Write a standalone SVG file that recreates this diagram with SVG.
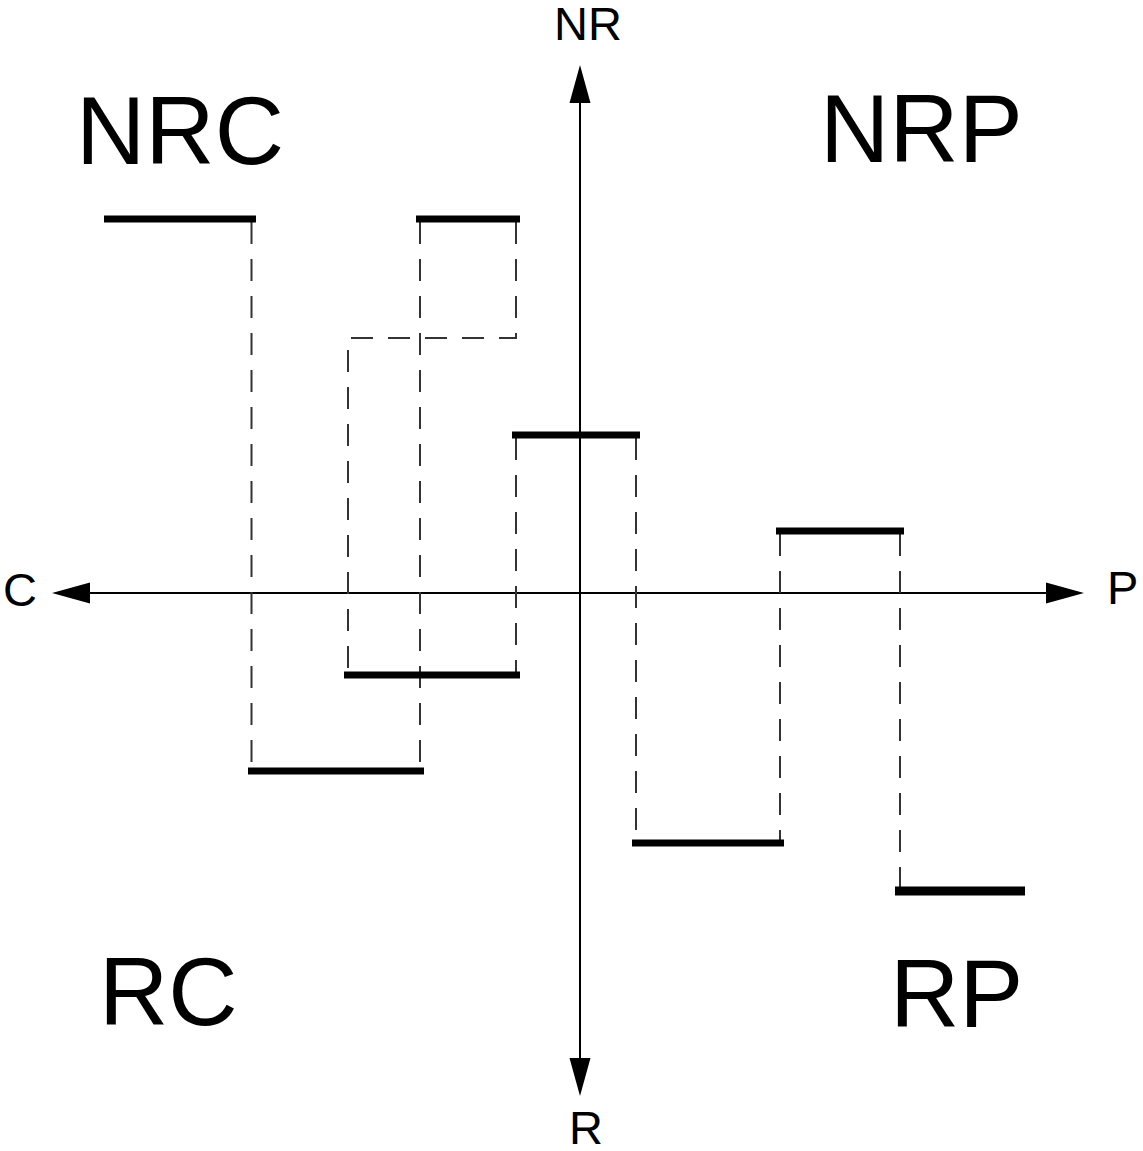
<svg xmlns="http://www.w3.org/2000/svg" width="1143" height="1151" viewBox="0 0 1143 1151">
<style>
.bar{stroke:#000;stroke-width:7;stroke-linecap:butt;fill:none}
.dash{stroke:#333;stroke-width:2;stroke-dasharray:22 15;fill:none}
.axis{stroke:#000;stroke-width:2;fill:none}
.small{font-family:"Liberation Sans",Arial,sans-serif;font-size:47px;fill:#000}
.big{font-family:"Liberation Sans",Arial,sans-serif;font-size:96px;fill:#000}
</style>
<defs>
<marker id="arrow" markerUnits="userSpaceOnUse" markerWidth="40" markerHeight="24" viewBox="0 -12 40 24" refX="0" refY="0" orient="auto-start-reverse">
<path d="M0,-10.5 L38,0 L0,10.5 Z" fill="#000"/>
</marker>
</defs>
<rect width="1143" height="1151" fill="#fff"/>
<g id="connectors">
<line id="axis-h" class="axis" x1="90" y1="593" x2="1046" y2="593" marker-start="url(#arrow)" marker-end="url(#arrow)"/>
<line id="axis-v" class="axis" x1="580" y1="103" x2="580" y2="1058" marker-start="url(#arrow)" marker-end="url(#arrow)"/>
<line class="dash" x1="251.5" y1="222" x2="251.5" y2="771"/>
<line class="dash" x1="420" y1="222" x2="420" y2="771"/>
<path class="dash" d="M516,222 V338 H348 V675"/>
<line class="dash" x1="516" y1="438" x2="516" y2="675"/>
<line class="dash" x1="636" y1="438" x2="636" y2="843"/>
<line class="dash" x1="780" y1="534" x2="780" y2="843"/>
<line class="dash" x1="900" y1="534" x2="900" y2="891"/>
</g>
<g id="bar1"><line class="bar" x1="104" y1="219" x2="256" y2="219"/></g>
<g id="bar2"><line class="bar" x1="416" y1="219" x2="520" y2="219"/></g>
<g id="bar3"><line class="bar" x1="512" y1="435" x2="640" y2="435"/></g>
<g id="bar4"><line class="bar" x1="344" y1="675" x2="520" y2="675"/></g>
<g id="bar5"><line class="bar" x1="248" y1="771" x2="424" y2="771"/></g>
<g id="bar6"><line class="bar" x1="632" y1="843" x2="784" y2="843"/></g>
<g id="bar7"><line class="bar" x1="776" y1="531" x2="904" y2="531"/></g>
<g id="bar8"><line class="bar" x1="895" y1="891" x2="1025" y2="891" style="stroke-width:9"/></g>
<g id="label-NR"><text class="small" x="554" y="40">NR</text></g>
<g id="label-R"><text class="small" x="569" y="1144">R</text></g>
<g id="label-C"><text class="small" x="3" y="606">C</text></g>
<g id="label-P"><text class="small" x="1107" y="604">P</text></g>
<g id="label-NRC"><text class="big" x="76" y="164">NRC</text></g>
<g id="label-NRP"><text class="big" x="820" y="162">NRP</text></g>
<g id="label-RC"><text class="big" x="99" y="1025">RC</text></g>
<g id="label-RP"><text class="big" x="890" y="1027">RP</text></g>
</svg>
